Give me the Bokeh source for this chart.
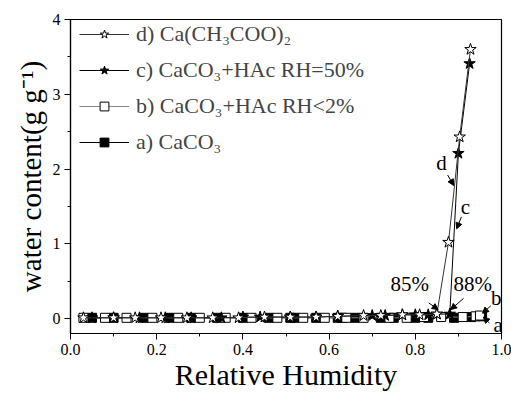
from bokeh.plotting import figure
from bokeh.models import Legend, LegendItem, Label, Arrow, NormalHead, FixedTicker, Range1d
from bokeh.embed import file_html
from bokeh.resources import INLINE

# a) CaCO3
a_x = [0.05, 0.10, 0.17, 0.23, 0.28, 0.34, 0.40, 0.46, 0.51, 0.52, 0.57, 0.62, 0.63, 0.66, 0.72, 0.75, 0.80, 0.83, 0.89, 0.93, 0.955]
a_y = [0.01, 0.01, 0.01, 0.01, 0.01, 0.01, 0.01, 0.01, 0.01, 0.01, 0.01, 0.01, 0.01, 0.01, 0.01, 0.01, 0.01, 0.01, 0.01, 0.02, 0.03]
# b) CaCO3+HAc RH<2%
b_x = [0.03, 0.08, 0.13, 0.19, 0.25, 0.30, 0.36, 0.42, 0.48, 0.54, 0.59, 0.64, 0.68, 0.74, 0.78, 0.82, 0.86, 0.91, 0.94, 0.95]
b_y = [0.01, 0.01, 0.01, 0.01, 0.01, 0.01, 0.01, 0.01, 0.01, 0.01, 0.01, 0.01, 0.01, 0.01, 0.01, 0.02, 0.02, 0.02, 0.03, 0.04]
# c) CaCO3+HAc RH=50%
c_x = [0.05, 0.10, 0.16, 0.22, 0.28, 0.35, 0.40, 0.44, 0.51, 0.57, 0.62, 0.70, 0.73, 0.77, 0.80, 0.83, 0.85, 0.88, 0.90, 0.926]
c_y = [0.01, 0.01, 0.01, 0.01, 0.01, 0.01, 0.02, 0.02, 0.02, 0.02, 0.03, 0.04, 0.04, 0.05, 0.05, 0.05, 0.06, 0.06, 2.21, 3.41]
# d) Ca(CH3COO)2
d_x = [0.03, 0.10, 0.15, 0.21, 0.27, 0.33, 0.39, 0.45, 0.51, 0.57, 0.62, 0.68, 0.72, 0.77, 0.81, 0.85, 0.877, 0.903, 0.928]
d_y = [0.01, 0.01, 0.01, 0.01, 0.01, 0.01, 0.01, 0.02, 0.02, 0.02, 0.03, 0.04, 0.04, 0.05, 0.05, 0.06, 1.02, 2.43, 3.60]

labels = ["d) Ca(CH\u2083COO)\u2082", "c) CaCO\u2083+HAc RH=50%", "b) CaCO\u2083+HAc RH<2%", "a) CaCO\u2083"]
x_ticks = [0.0, 0.2, 0.4, 0.6, 0.8, 1.0]
y_ticks = [0, 1, 2, 3, 4]

FONT = "Liberation Serif"

p = figure(width=511, height=393, output_backend="svg", toolbar_location=None,
           x_range=Range1d(0.0, 1.0), y_range=Range1d(-0.2, 4.0),
           min_border_left=70, min_border_right=10, min_border_top=19, min_border_bottom=60)
p.grid.visible = False
p.outline_line_color = "black"
p.outline_line_width = 1.2
p.background_fill_color = "white"
p.border_fill_color = "white"

la = p.line(a_x, a_y, line_color="black", line_width=1)
sa = p.scatter(a_x, a_y, marker="square", size=9, fill_color="black", line_color="black")
lb = p.line(b_x, b_y, line_color="#888888", line_width=1)
sb = p.scatter(b_x, b_y, marker="square", size=9, fill_color="white", line_color="black")
lc = p.line(c_x, c_y, line_color="black", line_width=1)
sc = p.scatter(c_x, c_y, marker="star", size=12, fill_color="black", line_color="black")
ld = p.line(d_x, d_y, line_color="#333333", line_width=1)
sd = p.scatter(d_x, d_y, marker="star", size=12, fill_color="white", line_color="black")

legend = Legend(items=[
    LegendItem(label=labels[0], renderers=[ld, sd]),
    LegendItem(label=labels[1], renderers=[lc, sc]),
    LegendItem(label=labels[2], renderers=[lb, sb]),
    LegendItem(label=labels[3], renderers=[la, sa]),
], location=(9, 178), border_line_color=None, background_fill_alpha=0,
    label_text_font=FONT, label_text_font_size="22px", glyph_width=50, glyph_height=22,
    label_height=22, label_standoff=7, spacing=10, padding=3, margin=0)
p.add_layout(legend)

for ax in (p.xaxis, p.yaxis):
    ax.axis_line_color = "black"
    ax.axis_line_width = 1.2
    ax.major_tick_line_color = "black"
    ax.minor_tick_line_color = "black"
    ax.major_tick_out = 6
    ax.major_tick_in = 0
    ax.minor_tick_out = 3
    ax.minor_tick_in = 0
    ax.major_label_text_font = FONT
    ax.major_label_text_font_size = "16px"
    ax.major_label_text_color = "black"
    ax.axis_label_text_font = FONT
    ax.axis_label_text_font_style = "normal"
    ax.axis_label_text_color = "black"

p.xaxis.ticker = FixedTicker(ticks=x_ticks, minor_ticks=[0.1, 0.3, 0.5, 0.7, 0.9])
p.yaxis.ticker = FixedTicker(ticks=y_ticks, minor_ticks=[0.5, 1.5, 2.5, 3.5])
p.xaxis.major_label_overrides = {t: f"{t:.1f}" for t in x_ticks}
p.xaxis.axis_label = "Relative Humidity"
p.xaxis.axis_label_text_font_size = "30px"
p.xaxis.axis_label_standoff = 0
p.xaxis.major_label_standoff = 4
p.yaxis.axis_label = "water content(g g\u207b\u00b9)"
p.yaxis.axis_label_text_font_size = "29px"
p.yaxis.axis_label_standoff = 3
p.yaxis.major_label_standoff = 4

def lab(x, y, t, size="21px"):
    p.add_layout(Label(x=x, y=y, text=t, text_font=FONT, text_font_size=size,
                       text_align="center", text_baseline="middle", text_color="black"))

def arr(x0, y0, x1, y1):
    p.add_layout(Arrow(end=NormalHead(size=6, fill_color="black", line_color="black"),
                       x_start=x0, y_start=y0, x_end=x1, y_end=y1,
                       line_color="black", line_width=1))

lab(0.787, 0.46, "85%")
lab(0.933, 0.46, "88%")
arr(0.831, 0.21, 0.853, 0.12)
arr(0.912, 0.27, 0.882, 0.12)
lab(0.861, 2.08, "d")
arr(0.875, 1.92, 0.889, 1.78)
lab(0.916, 1.49, "c")
arr(0.907, 1.36, 0.896, 1.20)
lab(0.988, 0.27, "b")
arr(0.975, 0.17, 0.956, 0.07)
lab(0.992, -0.08, "a")
arr(0.972, -0.06, 0.958, 0.02)

open("out.html", "w").write(file_html(p, INLINE))
